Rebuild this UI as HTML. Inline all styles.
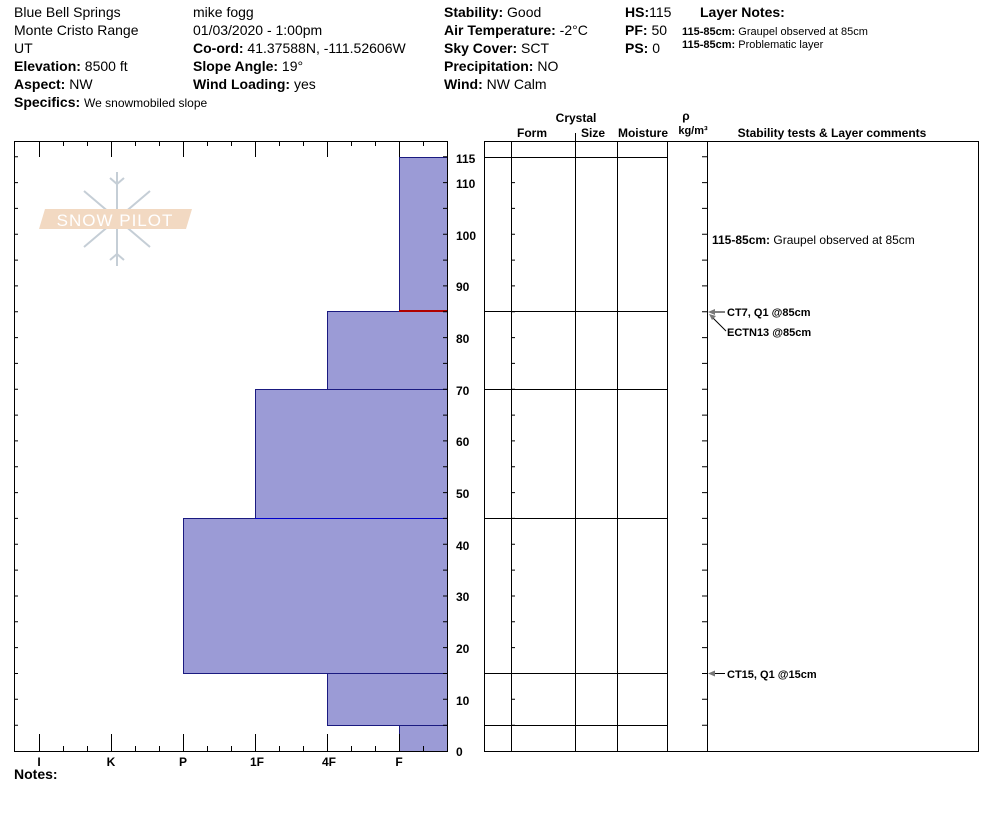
<!DOCTYPE html>
<html><head><meta charset="utf-8"><style>
html,body{margin:0;padding:0;background:#fff;}
svg{display:block;font-family:"Liberation Sans",Arial,sans-serif;}
.b{font-weight:bold;}
</style></head><body>
<svg width="994" height="840" viewBox="0 0 994 840" xmlns="http://www.w3.org/2000/svg">
<g font-size="14" fill="#000">
<text x="14" y="17">Blue Bell Springs</text>
<text x="14" y="35">Monte Cristo Range</text>
<text x="14" y="53">UT</text>
<text x="14" y="71"><tspan class="b">Elevation:</tspan> 8500 ft</text>
<text x="14" y="89"><tspan class="b">Aspect:</tspan> NW</text>
<text x="14" y="107"><tspan class="b">Specifics:</tspan> <tspan font-size="12">We snowmobiled slope</tspan></text>
<text x="193" y="17">mike fogg</text>
<text x="193" y="35">01/03/2020 - 1:00pm</text>
<text x="193" y="53"><tspan class="b">Co-ord:</tspan> 41.37588N, -111.52606W</text>
<text x="193" y="71"><tspan class="b">Slope Angle:</tspan> 19°</text>
<text x="193" y="89"><tspan class="b">Wind Loading:</tspan> yes</text>
<text x="444" y="17"><tspan class="b">Stability:</tspan> Good</text>
<text x="444" y="35"><tspan class="b">Air Temperature:</tspan> -2°C</text>
<text x="444" y="53"><tspan class="b">Sky Cover:</tspan> SCT</text>
<text x="444" y="71"><tspan class="b">Precipitation:</tspan> NO</text>
<text x="444" y="89"><tspan class="b">Wind:</tspan>  NW Calm</text>
<text x="625" y="17"><tspan class="b">HS:</tspan>115</text>
<text x="625" y="35"><tspan class="b">PF:</tspan> 50</text>
<text x="625" y="53"><tspan class="b">PS:</tspan> 0</text>
<text x="700" y="17" class="b">Layer Notes:</text>
<text x="682" y="35" font-size="11"><tspan class="b">115-85cm:</tspan> Graupel observed at 85cm</text>
<text x="682" y="48" font-size="11"><tspan class="b">115-85cm:</tspan> Problematic layer</text>
</g>
<!-- logo -->
<g stroke="#c5ced6" stroke-width="2" fill="none">
<path d="M117 172v94M84 191l66 56M84 247l66-56M110 178l7 6 7-6M110 260l7-6 7 6"/>
</g>
<polygon points="45,209 192,209 186,229 39,229" fill="#f2d9c2"/>
<text x="115" y="226" font-size="17" fill="#fff" text-anchor="middle" letter-spacing="1">SNOW PILOT</text>
<!-- left bars -->
<g fill="#9b9bd6" stroke="#1a1a80" stroke-width="1">
<rect x="399.5" y="157.5" width="48" height="154"/>
<rect x="327.5" y="311.5" width="120" height="78"/>
<rect x="255.5" y="389.5" width="192" height="129"/>
<rect x="183.5" y="518.5" width="264" height="155"/>
<rect x="327.5" y="673.5" width="120" height="52"/>
<rect x="399.5" y="725.5" width="48" height="26"/>
</g>
<line x1="399" y1="311" x2="447" y2="311" stroke="#b00000" stroke-width="2"/>
<line x1="255" y1="518.5" x2="447" y2="518.5" stroke="#0000cc" stroke-width="1"/>
<g stroke="#000" stroke-width="1" fill="none">
<path d="M14.5 141v611M14 751.5h434M447.5 141v611M14 141.5h434"/>
<path d="M14 725.2h4M14 699.3h4M14 673.5h4M14 647.6h4M14 621.8h4M14 596h4M14 570.1h4M14 544.3h4M14 518.4h4M14 492.6h4M14 466.8h4M14 440.9h4M14 415.1h4M14 389.3h4M14 363.4h4M14 337.6h4M14 311.8h4M14 285.9h4M14 260.1h4M14 234.3h4M14 208.4h4M14 182.6h4M14 156.8h4"/>
<path d="M443 725.2h4M443 699.3h4M443 673.5h4M443 647.6h4M443 621.8h4M443 596h4M443 570.1h4M443 544.3h4M443 518.4h4M443 492.6h4M443 466.8h4M443 440.9h4M443 415.1h4M443 389.3h4M443 363.4h4M443 337.6h4M443 311.8h4M443 285.9h4M443 260.1h4M443 234.3h4M443 208.4h4M443 182.6h4M443 156.8h4"/>
<path d="M39.5 734v17M111.5 734v17M183.5 734v17M255.5 734v17M327.5 734v17M399.5 734v17M63.5 746v5M87.5 746v5M135.5 746v5M159.5 746v5M207.5 746v5M231.5 746v5M279.5 746v5M303.5 746v5M351.5 746v5M375.5 746v5M423.5 746v5"/>
<path d="M39.5 141v16M111.5 141v16M183.5 141v16M255.5 141v16M327.5 141v16M399.5 141v16M63.5 141v5M87.5 141v5M135.5 141v5M159.5 141v5M207.5 141v5M231.5 141v5M279.5 141v5M303.5 141v5M351.5 141v5M375.5 141v5M423.5 141v5"/>
</g>
<g font-size="12" font-weight="bold" text-anchor="middle">
<text x="39" y="766">I</text><text x="111" y="766">K</text><text x="183" y="766">P</text><text x="257" y="766">1F</text><text x="329" y="766">4F</text><text x="399" y="766">F</text>
</g>
<text x="14" y="779" font-size="14" font-weight="bold">Notes:</text>
<g font-size="12" font-weight="bold">
<text x="456" y="163">115</text><text x="456" y="188">110</text><text x="456" y="240">100</text><text x="456" y="291">90</text><text x="456" y="343">80</text><text x="456" y="395">70</text><text x="456" y="446">60</text><text x="456" y="498">50</text><text x="456" y="550">40</text><text x="456" y="601">30</text><text x="456" y="653">20</text><text x="456" y="705">10</text><text x="456" y="756">0</text>
</g>
<!-- right table -->
<g font-size="12" font-weight="bold" text-anchor="middle">
<text x="576" y="122">Crystal</text>
<text x="532" y="137">Form</text>
<text x="593" y="137">Size</text>
<text x="643" y="137">Moisture</text>
<text x="686" y="120">ρ</text>
<text x="693" y="134" font-size="11">kg/m³</text>
<text x="832" y="137">Stability tests &amp; Layer comments</text>
</g>
<g stroke="#000" stroke-width="1" fill="none">
<rect x="484.5" y="141.5" width="494" height="610"/>
<path d="M511.5 141v611M575.5 133v619M617.5 141v611M667.5 141v611M707.5 141v611"/>
<path d="M484 157.5h183M484 311.5h183M484 389.5h183M484 518.5h183M484 673.5h183M484 725.5h183"/>
<path d="M511 725.2h4M511 699.3h4M511 673.5h4M511 647.6h4M511 621.8h4M511 596h4M511 570.1h4M511 544.3h4M511 518.4h4M511 492.6h4M511 466.8h4M511 440.9h4M511 415.1h4M511 389.3h4M511 363.4h4M511 337.6h4M511 311.8h4M511 285.9h4M511 260.1h4M511 234.3h4M511 208.4h4M511 182.6h4"/>
<path d="M702 725.2h5M702 699.3h5M702 673.5h5M702 647.6h5M702 621.8h5M702 596h5M702 570.1h5M702 544.3h5M702 518.4h5M702 492.6h5M702 466.8h5M702 440.9h5M702 415.1h5M702 389.3h5M702 363.4h5M702 337.6h5M702 311.8h5M702 285.9h5M702 260.1h5M702 234.3h5M702 208.4h5M702 182.6h5M702 156.8h5"/>
</g>
<g stroke="#000" stroke-width="1">
<line x1="709" y1="312" x2="725" y2="312"/>
<line x1="711" y1="316" x2="726" y2="331"/>
<line x1="709" y1="673.5" x2="725" y2="673.5"/>
</g>
<g fill="#777">
<polygon points="708,312 715,309 715,315"/>
<polygon points="709,314 716,316 712,320"/>
<polygon points="708,673.5 715,670.5 715,676.5"/>
</g>
<text x="712" y="244" font-size="12"><tspan font-weight="bold">115-85cm:</tspan> Graupel observed at 85cm</text>
<g font-size="11" font-weight="bold">
<text x="727" y="316">CT7, Q1 @85cm</text>
<text x="727" y="336">ECTN13 @85cm</text>
<text x="727" y="678">CT15, Q1 @15cm</text>
</g>
</svg>
</body></html>
